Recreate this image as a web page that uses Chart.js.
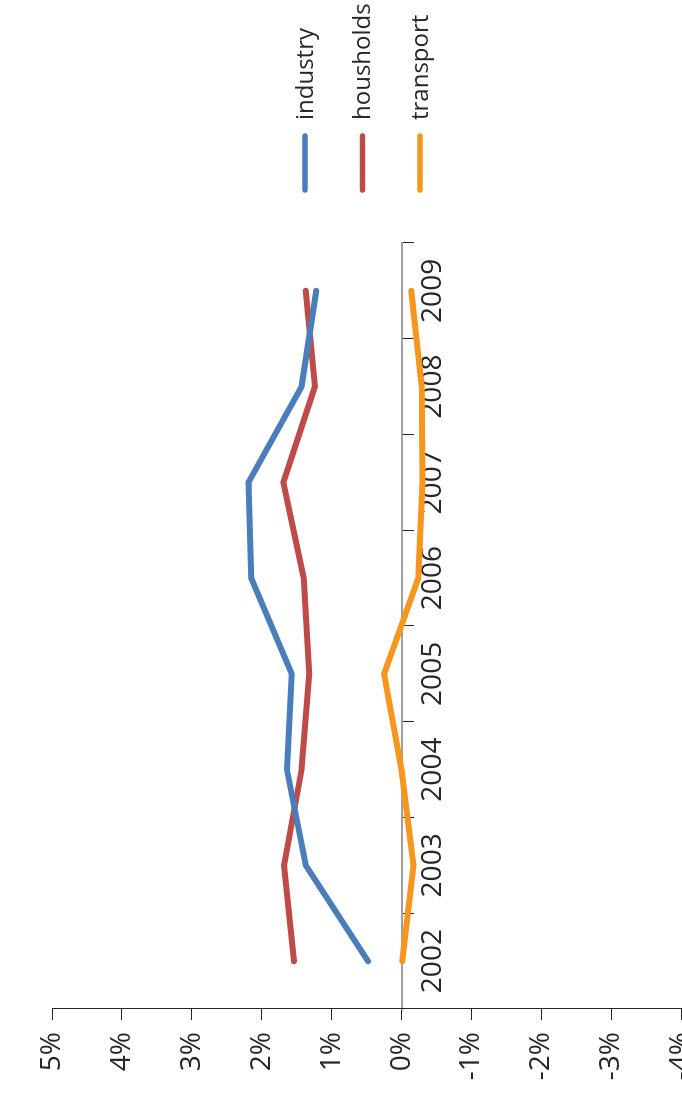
<!DOCTYPE html>
<html>
<head>
<meta charset="utf-8">
<script src="https://cdn.jsdelivr.net/npm/chart.js@4/dist/chart.umd.min.js"></script>
<style>
  html, body { margin: 0; padding: 0; background: #fff; overflow: hidden; }
  #frame { position: relative; width: 682px; height: 1106px; overflow: hidden; background: #fff; }
  /* the chart is laid out landscape and turned a quarter turn counter-clockwise */
  #chart { position: absolute; left: 0; top: 0; transform-origin: 0 0; transform: translate(0, 1106px) rotate(-90deg); }
</style>
</head>
<body>
<div id="frame"><canvas id="chart" width="1106" height="710"></canvas></div>
<script>
// annual change, percent
const years = ['2002', '2003', '2004', '2005', '2006', '2007', '2008', '2009'];
const industry  = [0.48, 1.37, 1.64, 1.57, 2.15, 2.19, 1.43, 1.22];
const housholds = [1.54, 1.68, 1.43, 1.32, 1.40, 1.69, 1.24, 1.37];
const transport = [-0.01, -0.17, 0.00, 0.25, -0.24, -0.30, -0.29, -0.14];
const seriesNames = ['industry', 'housholds', 'transport'];
const seriesColors = ['#4A7EBB', '#BE4B48', '#F7961E'];
const valueMin = -4;
const valueMax = 5;

Chart.defaults.font.family = "'Open Sans', sans-serif";
Chart.defaults.color = '#262626';

// vertical legend with line samples, to the right of the plot
const sideLegend = {
  id: 'sideLegend',
  afterDraw(chart) {
    const ctx = chart.ctx;
    const lineStart = 916, lineEnd = 970, textX = 986;
    const firstY = 305, gap = 57.5;
    ctx.save();
    chart.data.datasets.forEach((ds, i) => {
      const y = firstY + i * gap;
      ctx.strokeStyle = ds.borderColor;
      ctx.lineWidth = 5.5;
      ctx.lineCap = 'round';
      ctx.beginPath();
      ctx.moveTo(lineStart, y);
      ctx.lineTo(lineEnd, y);
      ctx.stroke();
      ctx.fillStyle = '#262626';
      ctx.font = "24px 'Open Sans', sans-serif";
      ctx.textBaseline = 'alphabetic';
      ctx.textAlign = 'left';
      ctx.fillText(ds.label, textX, y + 7.5);
    });
    ctx.restore();
  }
};

const seriesData = [industry, housholds, transport];

new Chart(document.getElementById('chart'), {
  type: 'line',
  data: {
    labels: years,
    datasets: seriesNames.map((name, i) => ({
      label: name,
      data: seriesData[i],
      borderColor: seriesColors[i],
      backgroundColor: seriesColors[i],
      borderWidth: 6,
      borderCapStyle: 'round',
      borderJoinStyle: 'miter',
      pointRadius: 0,
      tension: 0,
      fill: false
    }))
  },
  options: {
    responsive: false,
    animation: false,
    devicePixelRatio: 1,
    layout: { padding: { left: 0, top: 52, right: 243, bottom: 28 } },
    plugins: { legend: { display: false }, tooltip: { enabled: false } },
    scales: {
      x: {
        type: 'category',
        position: { y: 0 },
        offset: true,
        grid: { display: true, drawOnChartArea: false, drawTicks: true, offset: true, tickLength: 11, tickColor: '#262626', tickWidth: 1 },
        border: { display: true, color: '#a0a0a0', width: 2 },
        ticks: { font: { size: 28 }, padding: 4, maxRotation: 0, autoSkip: false, color: '#262626' }
      },
      y: {
        min: valueMin,
        max: valueMax,
        afterFit(scale) { scale.width = 97; },
        grid: { display: true, drawOnChartArea: false, drawTicks: true, tickLength: 11, tickColor: '#262626', tickWidth: 1 },
        border: { display: true, color: '#262626', width: 1 },
        ticks: { stepSize: 1, font: { size: 28 }, padding: 12, color: '#262626', callback: v => v + '%' }
      }
    }
  },
  plugins: [sideLegend]
});
</script>
</body>
</html>
